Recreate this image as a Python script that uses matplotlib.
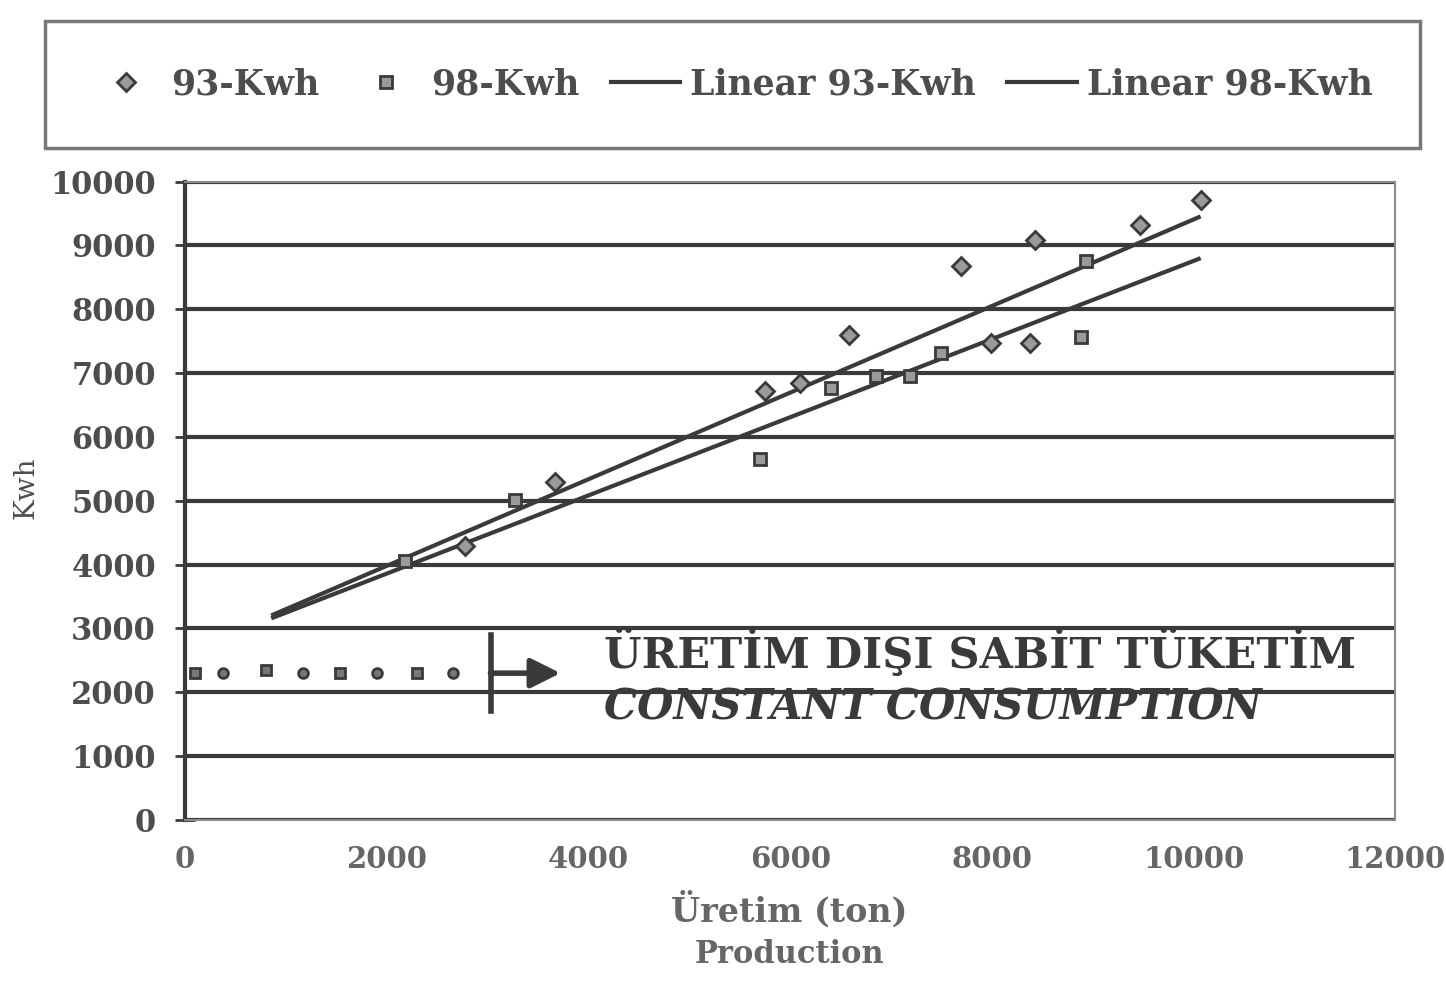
import numpy as np
import matplotlib
matplotlib.use('Agg')
import matplotlib.pyplot as plt
from matplotlib.lines import Line2D

# data
prod_93 = [2780, 3670, 5750, 6100, 6580, 7690, 7990, 8380, 8430, 9470, 10070]
kwh_93 = [4300, 5300, 6720, 6850, 7600, 8680, 7480, 7480, 9080, 9320, 9710]

prod_98 = [2180, 3270, 5700, 6400, 6850, 7190, 7490, 8880, 8930]
kwh_98 = [4060, 5020, 5650, 6770, 6960, 6960, 7320, 7560, 8760]

# constant (non-production) consumption points
const_x = [100, 380, 800, 1170, 1540, 1900, 2300, 2660]
const_y = [2300, 2300, 2350, 2300, 2300, 2300, 2300, 2300]

# trend line end points
trend_x = [873, 10050]
trend_93 = [3217, 9443]
trend_98 = [3170, 8790]

xticks = [0, 2000, 4000, 6000, 8000, 10000, 12000]
yticks = [0, 1000, 2000, 3000, 4000, 5000, 6000, 7000, 8000, 9000, 10000]

ink = '#3a3a3a'
txt = '#4d4d4d'

plt.rcParams['font.family'] = ['DejaVu Serif']

fig = plt.figure(figsize=(14.46, 9.82), dpi=100)
ax = fig.add_axes([0.128, 0.165, 0.837, 0.650])

for y in yticks:
    ax.axhline(y, color=ink, lw=3, zorder=1)

ax.plot(trend_x, trend_93, color=ink, lw=3, zorder=2)
ax.plot(trend_x, trend_98, color=ink, lw=3, zorder=2)

ax.plot(prod_93, kwh_93, 'D', color=ink, ms=9, mfc='#9a9a9a', mew=2, zorder=3)
ax.plot(prod_98, kwh_98, 's', color=ink, ms=9, mfc='#9a9a9a', mew=2, zorder=3)
ax.plot(const_x[::2], const_y[::2], 's', color=ink, ms=7, mfc='#777777', mew=2, zorder=3)
ax.plot(const_x[1::2], const_y[1::2], 'o', color=ink, ms=7, mfc='#777777', mew=2, zorder=3)

# arrow + note about constant consumption
ax.annotate('', xy=(3750, 2300), xytext=(3000, 2300),
            arrowprops=dict(arrowstyle='-|>', color=ink, lw=4, mutation_scale=45))
ax.plot([3030, 3030], [1700, 2900], color=ink, lw=4, zorder=3)
ax.text(4150, 2620, 'ÜRETİM DIŞI SABİT TÜKETİM', fontsize=31, color=ink,
        fontweight='bold', va='center', ha='left', zorder=4)
ax.text(4150, 1760, 'CONSTANT CONSUMPTION', fontsize=30, color=ink,
        fontweight='bold', style='italic', va='center', ha='left', zorder=4)

ax.set_xlim(0, 12000)
ax.set_ylim(0, 10000)
ax.set_xticks(xticks)
ax.set_yticks(yticks)
ax.set_xticklabels([str(v) for v in xticks], fontsize=21, fontweight='bold', color='#666666')
ax.set_yticklabels([str(v) for v in yticks], fontsize=22, fontweight='bold', color=txt)
ax.tick_params(axis='y', direction='inout', length=14, width=2, color=ink, pad=14)
ax.tick_params(axis='x', length=0, pad=18)

for s in ['top', 'right', 'bottom']:
    ax.spines[s].set_color('#8a8a8a')
    ax.spines[s].set_linewidth(1.5)
ax.spines['left'].set_color(ink)
ax.spines['left'].set_linewidth(3)

ax.set_ylabel('Kwh', fontsize=20, color=txt)
ax.yaxis.set_label_coords(-0.12, 0.52)
fig.text(0.546, 0.073, 'Üretim (ton)', fontsize=24, fontweight='bold', color='#666666',
         ha='center', va='center')
fig.text(0.546, 0.028, 'Production', fontsize=22, fontweight='bold', color='#666666',
         ha='center', va='center')

handles = [
    Line2D([], [], marker='D', ls='none', color=ink, mfc='#9a9a9a', ms=9, mew=2),
    Line2D([], [], marker='s', ls='none', color=ink, mfc='#9a9a9a', ms=9, mew=2),
    Line2D([], [], color=ink, lw=3),
    Line2D([], [], color=ink, lw=3),
]
labels = ['93-Kwh', '98-Kwh', 'Linear 93-Kwh', 'Linear 98-Kwh']
leg = fig.legend(handles, labels, ncol=4, loc='lower left',
                 bbox_to_anchor=(0.031, 0.849, 0.951, 0.135), mode='expand',
                 fontsize=25, frameon=True, fancybox=False, borderaxespad=0,
                 handlelength=2.0, handletextpad=0.3, borderpad=1.35)
for t in leg.get_texts():
    t.set_color(txt)
    t.set_fontweight('bold')
leg.get_frame().set_edgecolor('#555555')
leg.get_frame().set_linewidth(2.5)

fig.savefig('out.png', dpi=100, facecolor='white')
